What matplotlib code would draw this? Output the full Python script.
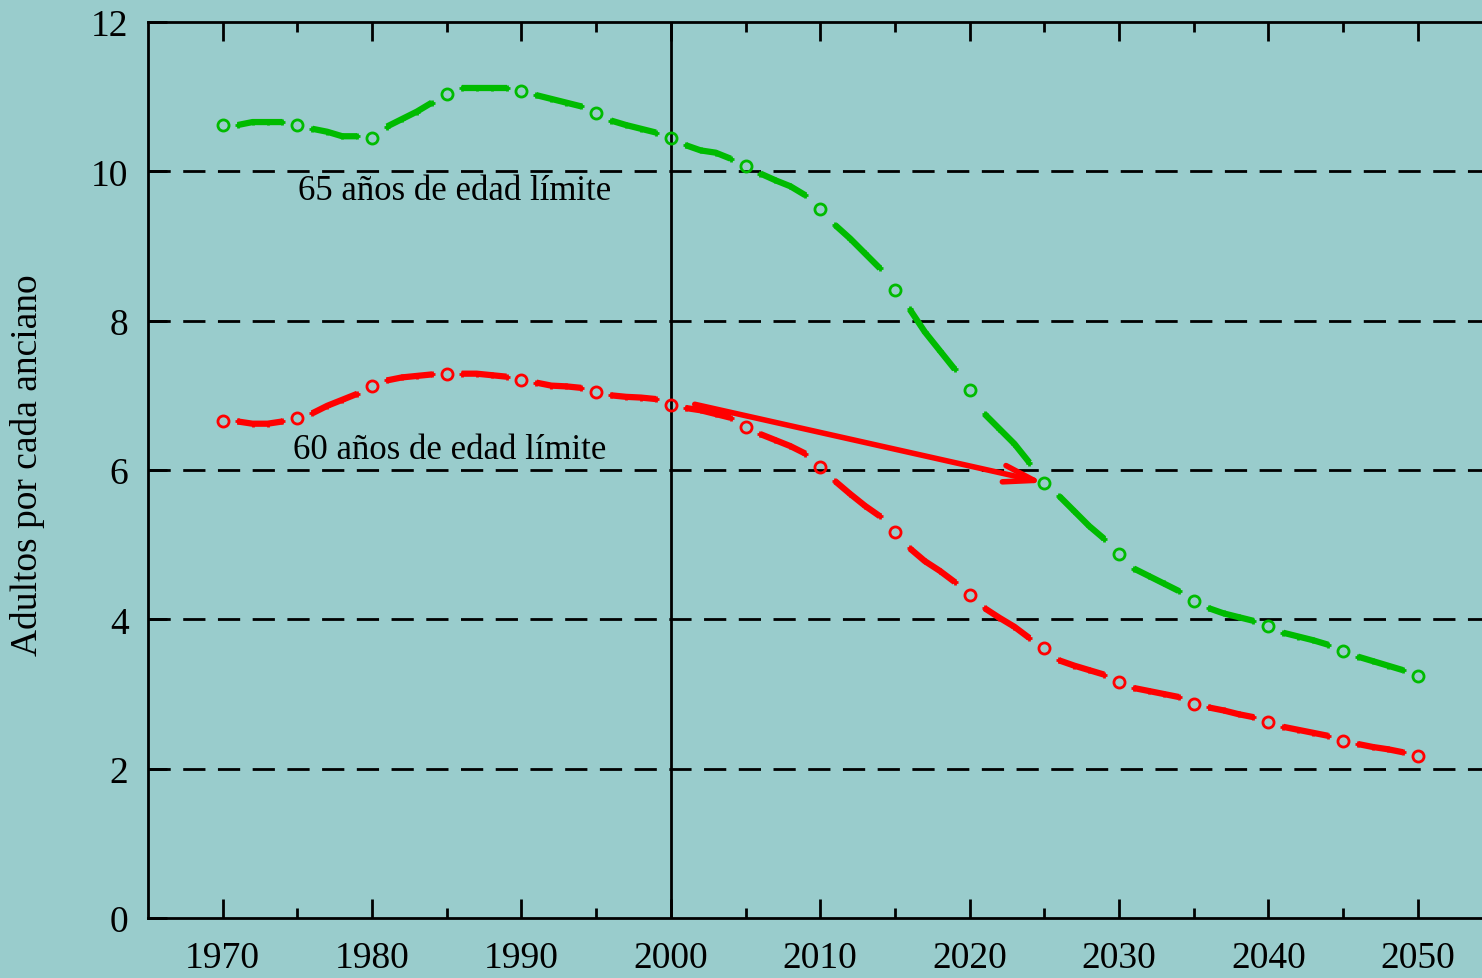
import matplotlib
matplotlib.use('Agg')
import matplotlib.pyplot as plt
import numpy as np

#### DATA ####
years = np.arange(1970, 2051)

# 65 years age limit (green), annual values
green_vals = [10.62, 10.62, 10.66, 10.66, 10.66, 10.62,
              10.57, 10.53, 10.47, 10.47, 10.45,
              10.60, 10.70, 10.80, 10.92, 11.04,
              11.12, 11.12, 11.12, 11.12, 11.08,
              11.02, 10.97, 10.92, 10.87, 10.78,
              10.68, 10.62, 10.57, 10.52, 10.45,
              10.35, 10.28, 10.25, 10.17, 10.07,
              9.97, 9.88, 9.80, 9.68, 9.50,
              9.28, 9.10, 8.90, 8.70, 8.41,
              8.15, 7.85, 7.60, 7.35, 7.07,
              6.75, 6.55, 6.35, 6.10, 5.83,
              5.65, 5.45, 5.25, 5.08, 4.87,
              4.68, 4.58, 4.48, 4.38, 4.25,
              4.15, 4.08, 4.03, 3.98, 3.91,
              3.82, 3.77, 3.72, 3.66, 3.58,
              3.50, 3.44, 3.38, 3.32, 3.24]

# 60 years age limit (red), annual values
red_vals = [6.66, 6.65, 6.62, 6.62, 6.65, 6.70,
            6.76, 6.86, 6.94, 7.02, 7.12,
            7.20, 7.24, 7.26, 7.28, 7.29,
            7.29, 7.29, 7.27, 7.25, 7.20,
            7.17, 7.13, 7.12, 7.10, 7.04,
            7.00, 6.98, 6.97, 6.95, 6.87,
            6.83, 6.80, 6.75, 6.70, 6.58,
            6.48, 6.40, 6.32, 6.22, 6.04,
            5.85, 5.68, 5.52, 5.38, 5.17,
            4.95, 4.78, 4.65, 4.50, 4.33,
            4.15, 4.02, 3.90, 3.75, 3.62,
            3.45, 3.38, 3.32, 3.26, 3.16,
            3.08, 3.04, 3.00, 2.96, 2.87,
            2.82, 2.78, 2.73, 2.69, 2.62,
            2.56, 2.52, 2.48, 2.44, 2.37,
            2.33, 2.29, 2.26, 2.22, 2.17]

series = [(green_vals, '#00BB00', '65 años de edad límite', (1985.5, 9.74)),
          (red_vals, '#FF0000', '60 años de edad límite', (1985.2, 6.27))]

arrow_start = (2001.6, 6.88)
arrow_end = (2025.0, 5.83)

BG = '#99CCCC'
plt.rcParams['font.family'] = ['Liberation Serif', 'DejaVu Serif']

fig = plt.figure(figsize=(14.82, 9.79), dpi=100)
fig.set_facecolor(BG)
ax = fig.add_axes([148 / 1482, 60 / 979, 1 - 148 / 1482, 896 / 979])
ax.set_facecolor(BG)

for vals, col, label, pos in series:
    vals = np.array(vals)
    # thick pieces between the 5-year circles
    for start in range(0, len(years) - 1, 5):
        idx = np.arange(start + 1, start + 5)
        ax.plot(years[idx], vals[idx], color=col, lw=4.5, solid_capstyle='butt',
                marker='+', ms=5, mew=2, zorder=3)
    ax.plot(years[::5], vals[::5], 'o', ms=8, mfc='none', mec=col, mew=2, zorder=4)
    ax.text(pos[0], pos[1], label, fontsize=25, ha='center', va='center', color='black')

ax.annotate('', xy=arrow_end, xytext=arrow_start,
            arrowprops=dict(arrowstyle='->,head_length=2.2,head_width=0.6',
                            color='#FF0000', lw=4, shrinkA=0, shrinkB=0), zorder=5)

# grid lines and 2000 divider
for yv in [2, 4, 6, 8, 10]:
    ax.axhline(yv, color='black', lw=2, dashes=(8, 4.5), zorder=1)
ax.axvline(2000, color='black', lw=2, zorder=1)

ax.set_xlim(1965, 2054.3)
ax.set_ylim(0, 12)
ax.set_xticks(np.arange(1970, 2051, 10))
ax.set_xticks(np.arange(1975, 2050, 10), minor=True)
ax.set_yticks(np.arange(0, 13, 2))
ax.tick_params(axis='both', which='major', direction='in', length=14, width=2,
               labelsize=27, top=True, right=False)
ax.tick_params(axis='x', which='minor', direction='in', length=7, width=2, top=True)
ax.tick_params(axis='x', pad=16)
ax.tick_params(axis='y', pad=14)
for s in ['left', 'bottom', 'top']:
    ax.spines[s].set_linewidth(2)
ax.spines['right'].set_visible(False)

ax.set_ylabel('Adultos por cada anciano', fontsize=27)
ax.yaxis.set_label_coords(-0.077, 0.507)

fig.savefig('out.png', dpi=100, facecolor=BG)
